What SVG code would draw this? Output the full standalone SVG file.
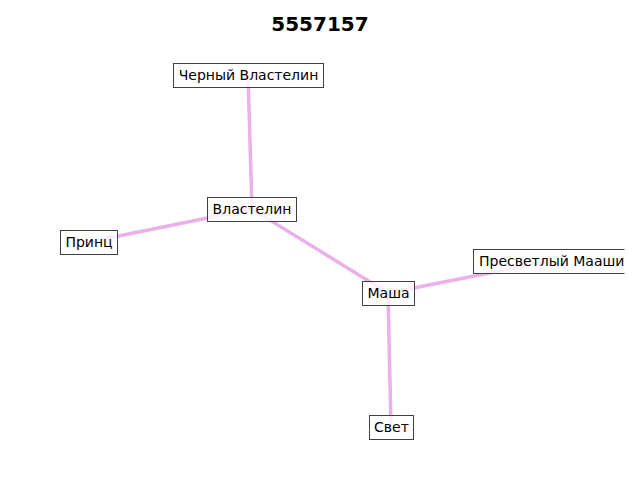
<svg xmlns="http://www.w3.org/2000/svg" width="640" height="480" viewBox="0 0 640 480">
<defs>
<style>
.edge{stroke:#eab0ea;stroke-width:3.5;fill:none;stroke-linecap:butt}
.box{fill:#ffffff;fill-opacity:0.8;stroke:#404040;stroke-width:1}
.lbl{font-family:"DejaVu Sans",sans-serif;font-size:14px;fill:#000;text-anchor:middle;dominant-baseline:central}
.title{font-family:"DejaVu Sans",sans-serif;font-size:20px;font-weight:bold;fill:#000;text-anchor:middle}
</style>
<clipPath id="clip"><rect x="0" y="0" width="624.5" height="480"/></clipPath>
</defs>
<rect width="640" height="480" fill="#ffffff"/>
<text class="title" x="320" y="31">5557157</text>
<g id="connectors">
<line class="edge" x1="248" y1="75" x2="252" y2="209"/>
<line class="edge" x1="252" y1="209" x2="89" y2="242"/>
<line class="edge" x1="252" y1="209" x2="388" y2="293"/>
<line class="edge" x1="388" y1="293" x2="545" y2="262"/>
<line class="edge" x1="388" y1="293" x2="391" y2="427"/>
</g>
<g id="node-chernyi">
<rect class="box" x="173.5" y="63.5" width="150" height="24"/>
<text class="lbl" x="248.5" y="75">Черный Властелин</text>
</g>
<g id="node-vlastelin">
<rect class="box" x="207.5" y="197.5" width="89" height="24"/>
<text class="lbl" x="252" y="209">Властелин</text>
</g>
<g id="node-prints">
<rect class="box" x="60.5" y="230.5" width="57" height="24"/>
<text class="lbl" x="89" y="242">Принц</text>
</g>
<g id="node-masha">
<rect class="box" x="362.5" y="281.5" width="52" height="24"/>
<text class="lbl" x="388.5" y="293">Маша</text>
</g>
<g id="node-presvetlyi" clip-path="url(#clip)">
<rect class="box" x="473.5" y="249.5" width="157" height="24"/>
<text class="lbl" x="479" y="261" style="text-anchor:start">Пресветлый Мааши</text>
</g>
<g id="node-svet">
<rect class="box" x="369.5" y="415.5" width="44" height="24"/>
<text class="lbl" x="391.5" y="427">Свет</text>
</g>
</svg>
